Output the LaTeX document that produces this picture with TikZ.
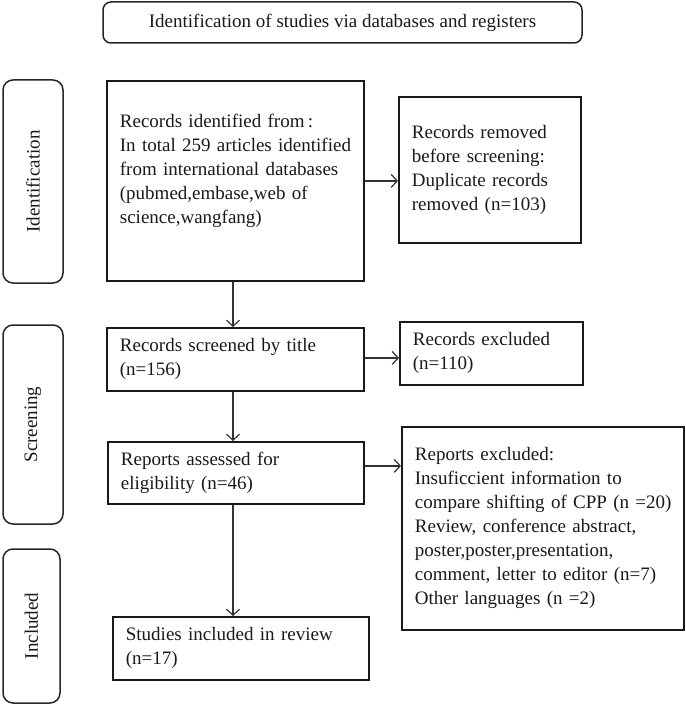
\documentclass[tikz,border=0pt]{standalone}
\usepackage{fontspec}
\setmainfont{Liberation Serif}
\usetikzlibrary{arrows.meta}
\begin{document}
\begin{tikzpicture}[x=1pt,y=-1pt,
  every node/.style={font=\fontsize{19}{24}\selectfont, text=black!90},
  box/.style={draw=black!90, line width=1.8pt, anchor=north west, align=left,
    inner xsep=13pt, inner ysep=0pt},
  side/.style={draw=black!85, line width=1.5pt, rounded corners=10pt, rotate=90,
    inner sep=0pt},
  arr/.style={draw=black!80, line width=1.2pt, -{Straight Barb[length=6pt,width=13pt,line width=1.2pt]}}
]
\useasboundingbox (0,0) rectangle (685,706);

\node[draw=black!85, line width=1.5pt, rounded corners=8pt, minimum width=479pt,
  minimum height=41pt, inner sep=0pt] (title) at (342.5,22.5)
  {Identification of studies via databases and registers};

\node[side, minimum width=203pt, minimum height=60pt] (sid) at (33,181.5) {Identification};
\node[side, minimum width=199pt, minimum height=60pt] (sscr) at (33,424.5) {Screening};
\node[side, minimum width=154pt, minimum height=57pt] (sinc) at (31.5,626) {Included};

\node[box, minimum width=257pt, minimum height=200pt, text width=231pt] (b1) at (106,80)
  {Records identified from\,:\\\mbox{In total 259 articles identified}\\\mbox{from international databases}\\(pubmed,embase,web of\\science,wangfang)\\\mbox{}};
\node[box, minimum width=182pt, minimum height=146pt, text width=156pt] (rem) at (398,96)
  {Records removed\\before screening:\\Duplicate records\\removed (n=103)};
\node[box, minimum width=257pt, minimum height=63pt, text width=231pt] (scr) at (106,327)
  {Records screened by title\\(n=156)};
\node[box, minimum width=183pt, minimum height=63pt, text width=157pt] (exc) at (399,321)
  {Records excluded\\(n=110)};
\node[box, minimum width=256pt, minimum height=62pt, text width=230pt] (ass) at (107,441)
  {Reports assessed for\\eligibility (n=46)};
\node[box, minimum width=282pt, minimum height=203pt, text width=256pt] (rex) at (401,426)
  {Reports excluded:\\\mbox{Insuficcient information to}\\\mbox{compare shifting of CPP (n =20)}\\\mbox{Review, conference abstract,}\\\mbox{poster,poster,presentation,}\\\mbox{comment, letter to editor (n=7)}\\Other languages (n =2)};
\node[box, minimum width=256pt, minimum height=63pt, text width=230pt] (stu) at (112,616)
  {Studies included in review\\(n=17)};

\coordinate (ax) at (233,0);
\coordinate (s1) at ([yshift=1.5pt]scr.east);
\coordinate (s2) at ([yshift=7pt]ass.east);
\draw[arr] (b1.south -| ax) -- (scr.north -| ax);
\draw[arr] (scr.south -| ax) -- (ass.north -| ax);
\draw[arr] (ass.south -| ax) -- (stu.north -| ax);
\draw[arr] (b1.east) -- (rem.west |- b1.east);
\draw[arr] (s1) -- (exc.west |- s1);
\draw[arr] (s2) -- (rex.west |- s2);
\end{tikzpicture}
\end{document}
